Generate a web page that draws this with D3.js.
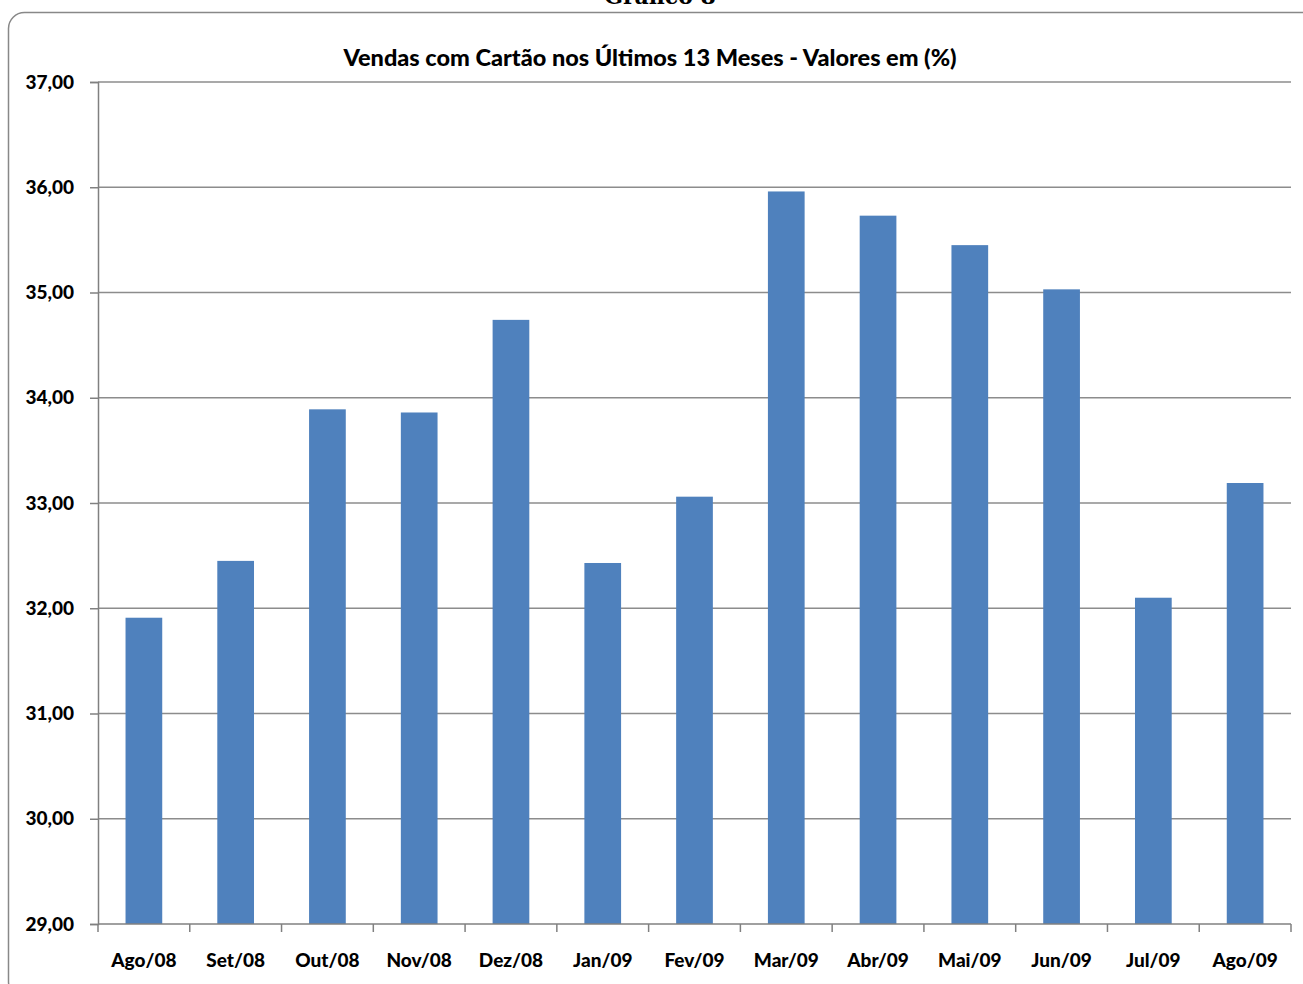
<!DOCTYPE html>
<html><head><meta charset="utf-8">
<script src="https://cdn.jsdelivr.net/npm/d3@7"></script>
<style>body{margin:0;background:#fff;}svg{display:block;}</style>
</head><body>
<script>
const categories = ["Ago/08","Set/08","Out/08","Nov/08","Dez/08","Jan/09","Fev/09","Mar/09","Abr/09","Mai/09","Jun/09","Jul/09","Ago/09"];
const values = [31.91, 32.45, 33.89, 33.86, 34.74, 32.43, 33.06, 35.96, 35.73, 35.45, 35.03, 32.10, 33.19];
const yTicks = [29,30,31,32,33,34,35,36,37];
const titleText = "Vendas com Cartão nos Últimos 13 Meses - Valores em (%)";
const topText = "Gráfico 8";

(function(){
const W = 1303, H = 984;
const svg = d3.select("body").append("svg").attr("width", W).attr("height", H);
const font = "Lato, 'Open Sans', sans-serif";

svg.append("text").attr("x", 660).attr("y", 4).attr("text-anchor","middle")
  .attr("font-family","'DejaVu Serif', 'Liberation Serif', serif").attr("font-weight","bold")
  .attr("font-size", 22).attr("fill","#000").text(topText);

svg.append("rect").attr("x", 8.5).attr("y", 12.5).attr("width", 1310).attr("height", 985)
  .attr("rx", 16).attr("fill","none").attr("stroke","#888").attr("stroke-width", 1.5);

const pL = 98, pR = 1291, pT = 82, pB = 924;
const x = d3.scaleBand().domain(categories).range([pL, pR]).paddingInner(0.6).paddingOuter(0.3);
const y = d3.scaleLinear().domain([29, 37]).range([pB, pT]);

svg.append("g").selectAll("line").data(yTicks.slice(1)).join("line")
  .attr("x1", pL).attr("x2", pR).attr("y1", d => y(d)).attr("y2", d => y(d))
  .attr("stroke","#8c8c8c").attr("stroke-width",1.3);

svg.append("g").selectAll("rect").data(values).join("rect")
  .attr("x", (d,i) => x(categories[i])).attr("width", x.bandwidth())
  .attr("y", d => y(d)).attr("height", d => y(29) - y(d))
  .attr("fill","#4F81BD");

const yAxis = d3.axisLeft(y).tickValues(yTicks).tickSize(8).tickPadding(16)
  .tickFormat(d => d3.format(".2f")(d).replace(".", ","));
const gy = svg.append("g").attr("transform", `translate(${pL},0)`).call(yAxis);
gy.select(".domain").attr("stroke","#808080").attr("stroke-width",1.5);
gy.selectAll(".tick line").attr("stroke","#808080").attr("stroke-width",1.5);
gy.selectAll("text").attr("font-family", font).attr("font-weight",900).attr("font-size", 19).attr("fill","#000");

const step = (pR - pL) / categories.length;
const gx = svg.append("g").attr("transform", `translate(0,${pB})`);
gx.append("line").attr("x1", pL).attr("x2", pR).attr("y1",0).attr("y2",0).attr("stroke","#808080").attr("stroke-width",1.5);
gx.selectAll("line.t").data(d3.range(categories.length + 1)).join("line").attr("class","t")
  .attr("x1", i => pL + i*step).attr("x2", i => pL + i*step).attr("y1",0).attr("y2",8)
  .attr("stroke","#808080").attr("stroke-width",1.5);
gx.selectAll("text").data(categories).join("text")
  .attr("x", d => x(d) + x.bandwidth()/2).attr("y", 43).attr("text-anchor","middle")
  .attr("font-family", font).attr("font-weight",900).attr("font-size", 19).attr("fill","#000").text(d => d);

svg.append("text").attr("x", 650).attr("y", 66).attr("text-anchor","middle")
  .attr("font-family", font).attr("font-weight",900).attr("font-size", 23.5).attr("fill","#000").text(titleText);
})();
</script>
</body></html>
